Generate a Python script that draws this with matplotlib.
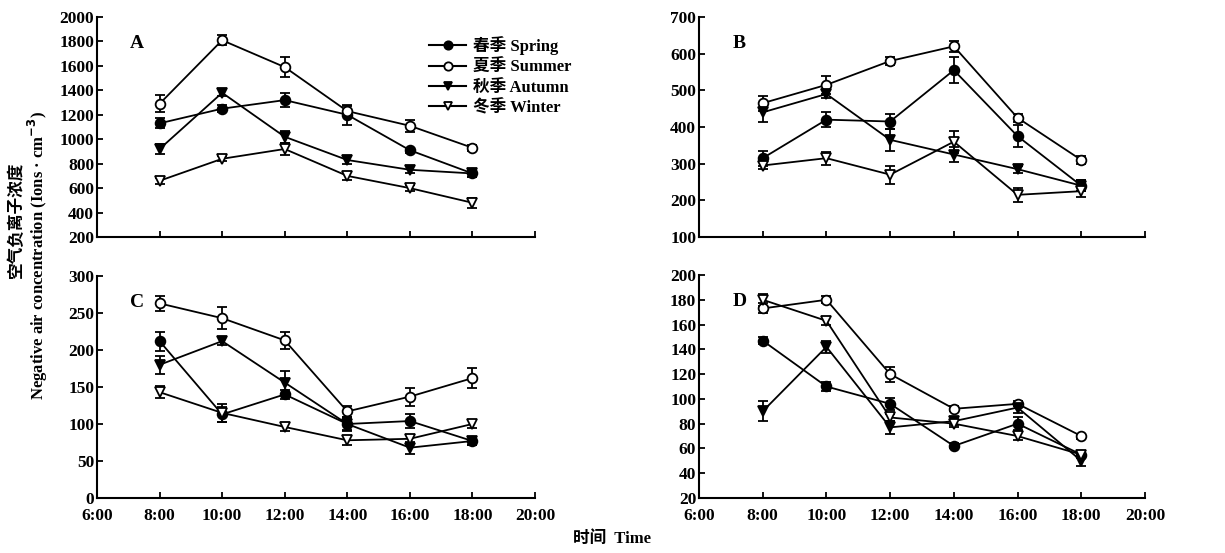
import numpy as np
import matplotlib
matplotlib.use('Agg')
import matplotlib.pyplot as plt
from matplotlib.lines import Line2D

# --- Data ---
HOURS = [8, 10, 12, 14, 16, 18]
XTICKS = [6, 8, 10, 12, 14, 16, 18, 20]
XTICK_LABELS = ['6:00', '8:00', '10:00', '12:00', '14:00', '16:00', '18:00', '20:00']

SEASONS = ['春季 Spring', '夏季 Summer', '秋季 Autumn', '冬季 Winter']

# panel A
a_spring = [1130, 1250, 1320, 1200, 910, 720]
a_summer = [1290, 1810, 1590, 1230, 1110, 930]
a_autumn = [920, 1380, 1020, 830, 750, 720]
a_winter = [660, 840, 920, 700, 600, 480]
a_err = [[40, 30, 60, 80, 20, 30], [70, 40, 80, 40, 50, 25],
         [40, 30, 50, 30, 30, 30], [25, 20, 50, 30, 25, 40]]

# panel B
b_spring = [315, 420, 415, 555, 375, 240]
b_summer = [465, 515, 580, 620, 425, 310]
b_autumn = [440, 490, 365, 325, 285, 240]
b_winter = [295, 315, 270, 360, 215, 225]
b_err = [[20, 20, 20, 35, 30, 15], [20, 25, 12, 15, 10, 10],
         [25, 10, 30, 20, 10, 15], [10, 18, 25, 30, 20, 15]]

# panel C
c_spring = [212, 113, 140, 100, 104, 77]
c_summer = [263, 243, 213, 117, 137, 162]
c_autumn = [180, 212, 156, 100, 68, 77]
c_winter = [143, 115, 96, 78, 80, 100]
c_err = [[13, 10, 6, 8, 9, 5], [10, 15, 12, 8, 12, 14],
         [12, 5, 15, 10, 8, 6], [8, 12, 5, 6, 5, 5]]

# panel D
d_spring = [147, 110, 96, 62, 80, 55]
d_summer = [173, 180, 120, 92, 96, 70]
d_autumn = [90, 142, 77, 82, 93, 50]
d_winter = [180, 163, 85, 80, 70, 55]
d_err = [[3, 4, 5, 2, 5, 3], [4, 3, 6, 2, 2, 2],
         [8, 5, 5, 3, 4, 4], [5, 3, 3, 3, 3, 3]]

PANELS = [
    ('A', [a_spring, a_summer, a_autumn, a_winter], a_err, (200, 2000), 200),
    ('B', [b_spring, b_summer, b_autumn, b_winter], b_err, (100, 700), 100),
    ('C', [c_spring, c_summer, c_autumn, c_winter], c_err, (0, 300), 50),
    ('D', [d_spring, d_summer, d_autumn, d_winter], d_err, (20, 200), 20),
]

# --- Style ---
FONT = ['Liberation Serif', 'Noto Sans CJK SC', 'DejaVu Sans']
plt.rcParams['font.family'] = FONT
plt.rcParams['font.weight'] = 'bold'

MARKERS = [('o', 'black'), ('o', 'white'), ('v', 'black'), ('v', 'white')]

fig = plt.figure(figsize=(12.25, 5.53), dpi=100)

W, H = 1225, 553
boxes = {
    'A': (97, 17, 535, 237),
    'B': (699, 17, 1145, 237),
    'C': (97, 276, 535, 498),
    'D': (699, 275, 1145, 498),
}

for name, series, errs, ylim, ystep in PANELS:
    x0, y0, x1, y1 = boxes[name]
    ax = fig.add_axes([x0 / W, 1 - y1 / H, (x1 - x0) / W, (y1 - y0) / H])
    for (mk, fc), vals, err in zip(MARKERS, series, errs):
        ax.errorbar(HOURS, vals, yerr=err, color='black', lw=1.3,
                    marker=mk, markersize=7, markerfacecolor=fc,
                    markeredgecolor='black', markeredgewidth=1.3,
                    capsize=3.5, elinewidth=1.3, capthick=1.3)
    ax.set_xlim(6, 20)
    ax.set_ylim(*ylim)
    ax.set_xticks(XTICKS)
    ax.set_yticks(np.arange(ylim[0], ylim[1] + 1, ystep))
    if name in ('C', 'D'):
        ax.set_xticklabels(XTICK_LABELS)
    else:
        ax.set_xticklabels([])
    for s in ('top', 'right'):
        ax.spines[s].set_visible(False)
    for s in ('left', 'bottom'):
        ax.spines[s].set_linewidth(1.5)
    ax.tick_params(direction='in', length=4, width=1.3, labelsize=12.5)
    ax.tick_params(axis='x', pad=7)
    ax.tick_params(axis='y', pad=2)
    for t in ax.get_xticklabels() + ax.get_yticklabels():
        t.set_fontweight('bold')
    ax.text(0.075, 0.88, name, transform=ax.transAxes, fontsize=14,
            fontweight='bold', ha='left', va='center')
    if name == 'A':
        handles = [Line2D([], [], color='black', lw=1.5, marker=mk,
                          markersize=6, markerfacecolor=fc,
                          markeredgecolor='black', markeredgewidth=1.3)
                   for mk, fc in MARKERS]
        ax.legend(handles, SEASONS, loc='upper left',
                  bbox_to_anchor=(0.74, 0.95), frameon=False,
                  handlelength=2.2, handletextpad=0.4,
                  labelspacing=0.25, borderpad=0,
                  prop={'family': FONT, 'weight': 'bold', 'size': 12})

# axis titles
fig.text(17 / W, 1 - 220 / H, '空气负离子浓度', rotation=90, ha='center',
         va='center', fontsize=12, fontweight='bold', family=FONT)
fig.text(38 / W, 1 - 255 / H, 'Negative air concentration (Ions · cm$^{-3}$)',
         rotation=90, ha='center', va='center', fontsize=12,
         fontweight='bold', family=FONT)
fig.text(612 / W, 1 - 539 / H, '时间  Time', ha='center', va='center',
         fontsize=12, fontweight='bold', family=FONT)

fig.savefig('out.png', dpi=100)
